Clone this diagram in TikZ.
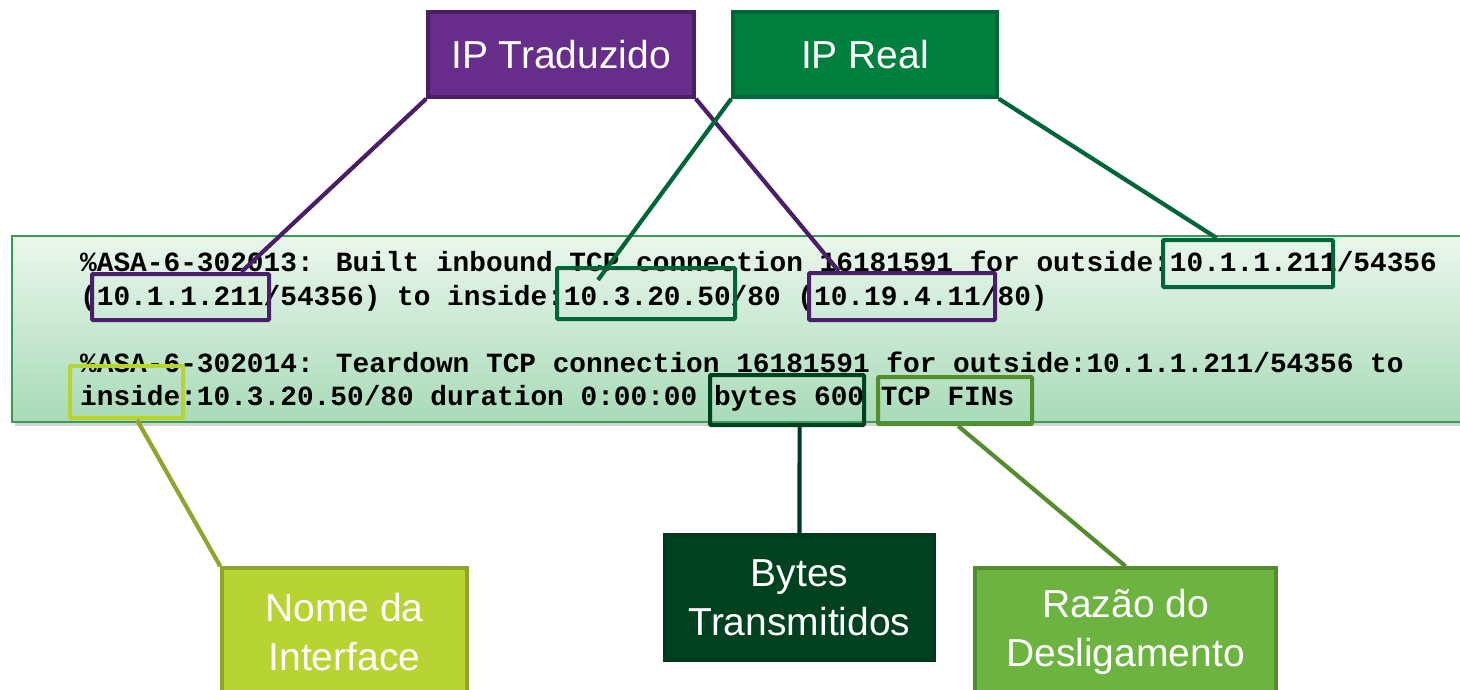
\documentclass[tikz,border=0pt]{standalone}
\usepackage{fontspec}
\setmainfont{Liberation Sans}
\newfontfamily\monof{Liberation Mono}
\usetikzlibrary{calc}
\definecolor{tradfill}{HTML}{662D8A}
\definecolor{tradline}{HTML}{4B1F68}
\definecolor{realfill}{HTML}{00803F}
\definecolor{realline}{HTML}{00663A}
\definecolor{nomefill}{HTML}{B8D432}
\definecolor{nomeline}{HTML}{8EA62A}
\definecolor{bytesfill}{HTML}{00421F}
\definecolor{bytesline}{HTML}{003A1C}
\definecolor{razfill}{HTML}{6DB33F}
\definecolor{razline}{HTML}{548D2F}
\definecolor{bandtop}{HTML}{EAF6EC}
\definecolor{bandbot}{HTML}{A8DBB8}
\definecolor{bandline}{HTML}{3A9A5A}
\tikzset{
  labelbox/.style={rectangle, line width=3.5pt, text=white, align=center,
    font=\fontsize{39}{49}\selectfont, inner sep=0pt},
  hlbox/.style={rectangle, line width=4pt, inner sep=0pt, rounded corners=1pt},
  conn/.style={line width=4.2pt},
  logline/.style={anchor=base west, inner sep=0pt,
    font=\monof\bfseries\fontsize{27.8}{34}\selectfont}
}
\begin{document}
\begin{tikzpicture}[x=1pt,y=-1pt]
\useasboundingbox (0,0) rectangle (1460,690);
\clip (0,0) rectangle (1460,690);
% band
\fill[black!35, opacity=0.5] (15,240) rectangle (1475,426);
\shade[top color=bandtop, bottom color=bandbot] (12,236) rectangle (1470,422);
\draw[bandline, line width=1.5pt] (12,236) rectangle (1470,422);
% log text
\node[logline] (l1) at (80,271) {\%ASA-6-302013: Built inbound TCP connection 16181591 for outside:10.1.1.211/54356};
\node[logline] (l2) at (80,305) {(10.1.1.211/54356) to inside:10.3.20.50/80 (10.19.4.11/80)};
\node[logline] (l3) at (80,372) {\%ASA-6-302014: Teardown TCP connection 16181591 for outside:10.1.1.211/54356 to};
\node[logline] (l4) at (80,405) {inside:10.3.20.50/80 duration 0:00:00 bytes 600 TCP FINs};
% highlight boxes
\node[hlbox, draw=tradline, minimum width=177pt, minimum height=46pt] (h1) at (180.5,297) {};
\node[hlbox, draw=realline, minimum width=178pt, minimum height=51pt] (h2) at (646,293.5) {};
\node[hlbox, draw=tradline, minimum width=186pt, minimum height=47pt] (h3) at (902,296.5) {};
\node[hlbox, draw=realline, minimum width=170pt, minimum height=47pt] (h4) at (1248,263.5) {};
\node[hlbox, draw=nomefill, minimum width=113pt, minimum height=52pt] (h5) at (126.5,392) {};
\node[hlbox, draw=bytesfill, minimum width=154pt, minimum height=50pt] (h6) at (787,400) {};
\node[hlbox, draw=razline, minimum width=154pt, minimum height=47pt] (h7) at (955,400.5) {};
% label boxes
\node[labelbox, fill=tradfill, draw=tradline, minimum width=266pt, minimum height=85pt] (trad) at (561,54.5) {IP Traduzido};
\node[labelbox, fill=realfill, draw=realline, minimum width=264pt, minimum height=85pt] (real) at (865,54.5) {IP Real};
\node[labelbox, fill=nomefill, draw=nomeline, minimum width=245pt, minimum height=128pt] (nome) at (344.5,632) {Nome da\\Interface};
\node[labelbox, fill=bytesfill, draw=bytesline, minimum width=269pt, minimum height=125pt] (bytes) at (799.5,597.5) {Bytes\\Transmitidos};
\node[labelbox, fill=razfill, draw=razline, minimum width=301pt, minimum height=128pt] (raz) at (1125.5,632) {Raz\~ao do\\Desligamento};
% connectors
\draw[conn, tradline] (trad.south west) -- ($(h1.north west)!0.836!(h1.north east)$);
\draw[conn, tradline] (trad.south east) -- ($(h3.north west)!0.167!(h3.north east)$);
\draw[conn, realline] (real.south west) -- ($(h2.north west)+(43,14)$);
\draw[conn, realline] (real.south east) -- ($(h4.north west)!0.32!(h4.north east)$);
\draw[conn, nomeline] ($(h5.south west)!0.59!(h5.south east)$) -- (nome.north west);
\draw[conn, bytesline] ($(h6.south west)!0.58!(h6.south east)$) -- (bytes.north);
\draw[conn, razline] ($(h7.south west)!0.52!(h7.south east)$) -- (raz.north);
\end{tikzpicture}
\end{document}
